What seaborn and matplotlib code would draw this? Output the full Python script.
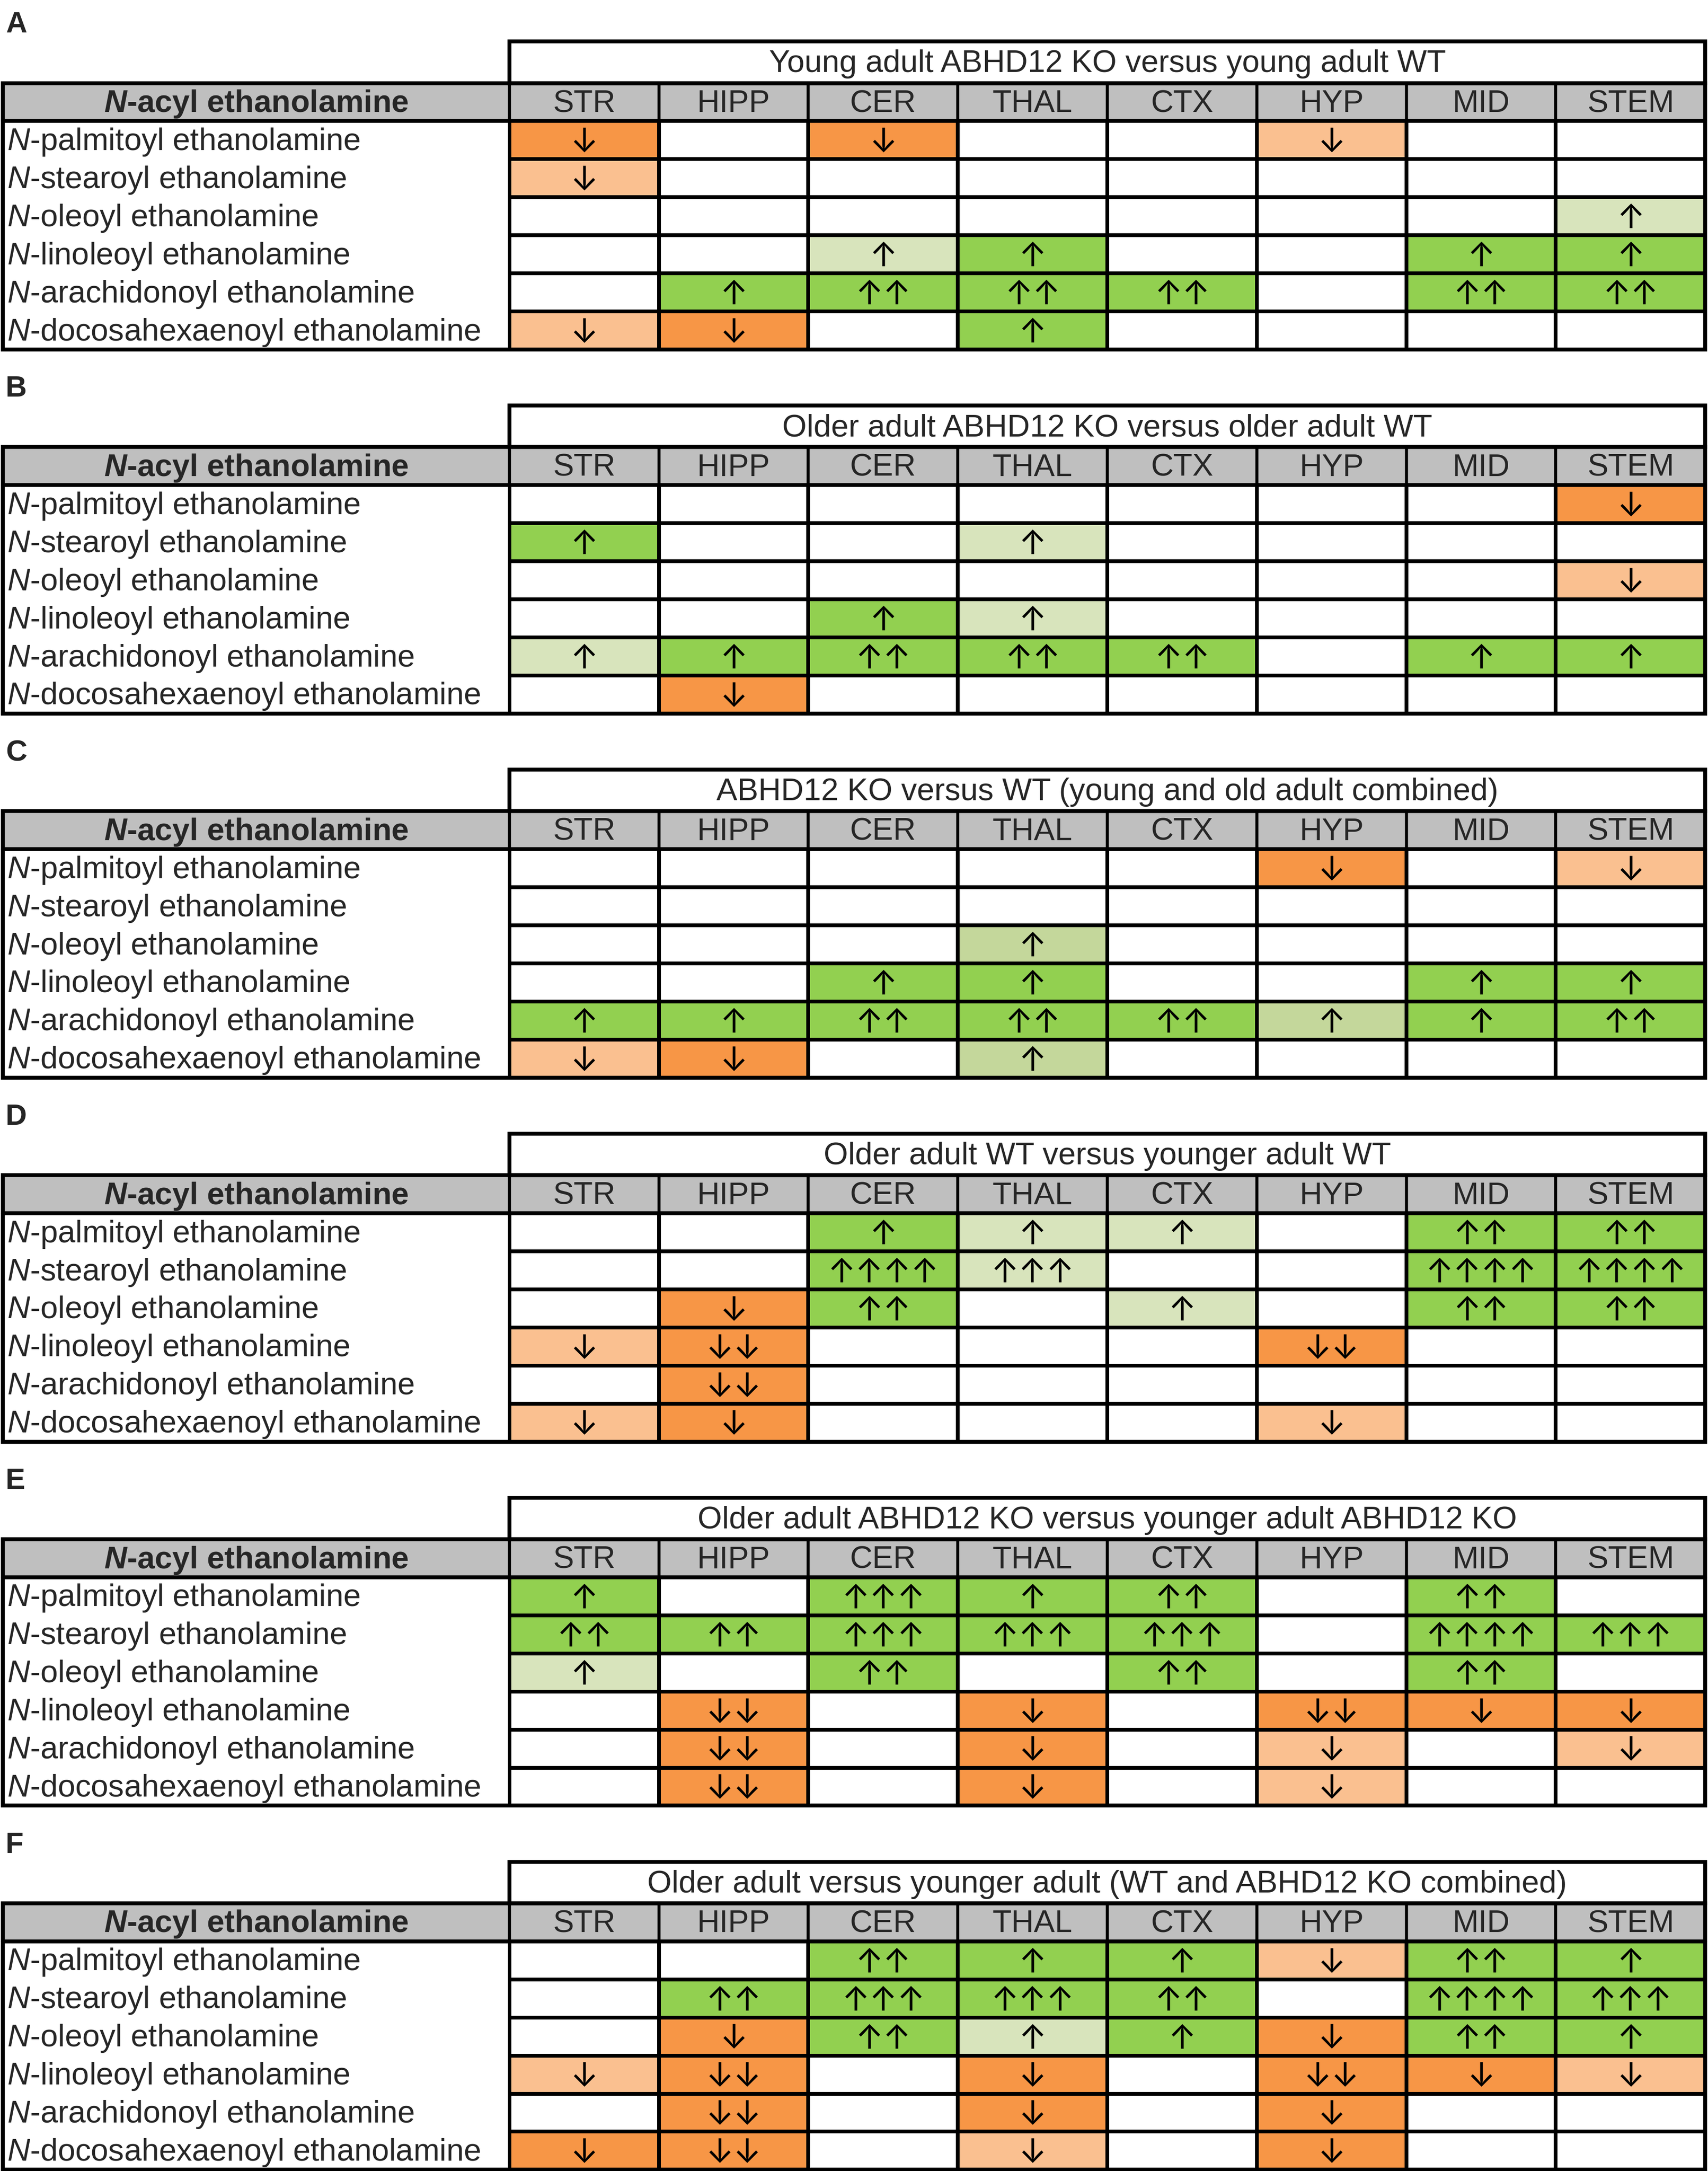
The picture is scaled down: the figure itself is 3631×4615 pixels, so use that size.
import numpy as np
import pandas as pd
import seaborn as sns
import matplotlib.pyplot as plt
from matplotlib.colors import ListedColormap
from matplotlib.patches import Rectangle

sns.set_style("white")
plt.rcParams['font.family'] = ['Liberation Sans', 'DejaVu Sans']
plt.rcParams['mathtext.fontset'] = 'custom'
plt.rcParams['mathtext.rm'] = 'Liberation Sans'
plt.rcParams['mathtext.it'] = 'Liberation Sans:italic'
plt.rcParams['mathtext.bf'] = 'Liberation Sans:bold'
plt.rcParams['mathtext.bfit'] = 'Liberation Sans:italic:bold'

regions = ["STR", "HIPP", "CER", "THAL", "CTX", "HYP", "MID", "STEM"]
acyls = ["palmitoyl", "stearoyl", "oleoyl", "linoleoyl",
         "arachidonoyl", "docosahexaenoyl"]
letters = ["A", "B", "C", "D", "E", "F"]
titles = [
    "Young adult ABHD12 KO versus young adult WT",
    "Older adult ABHD12 KO versus older adult WT",
    "ABHD12 KO versus WT (young and old adult combined)",
    "Older adult WT versus younger adult WT",
    "Older adult ABHD12 KO versus younger adult ABHD12 KO",
    "Older adult versus younger adult (WT and ABHD12 KO combined)",
]

# cell tokens: letter = shade, digit = number of arrows
# O dark orange (down), o light orange (down), G dark green (up),
# g light green (up), c pale olive green (up), . no change
panel_a = [
    "O1 .  O1 .  .  o1 .  .",
    "o1 .  .  .  .  .  .  .",
    ".  .  .  .  .  .  .  g1",
    ".  .  g1 G1 .  .  G1 G1",
    ".  G1 G2 G2 G2 .  G2 G2",
    "o1 O1 .  G1 .  .  .  .",
]
panel_b = [
    ".  .  .  .  .  .  .  O1",
    "G1 .  .  g1 .  .  .  .",
    ".  .  .  .  .  .  .  o1",
    ".  .  G1 g1 .  .  .  .",
    "g1 G1 G2 G2 G2 .  G1 G1",
    ".  O1 .  .  .  .  .  .",
]
panel_c = [
    ".  .  .  .  .  O1 .  o1",
    ".  .  .  .  .  .  .  .",
    ".  .  .  c1 .  .  .  .",
    ".  .  G1 G1 .  .  G1 G1",
    "G1 G1 G2 G2 G2 c1 G1 G2",
    "o1 O1 .  c1 .  .  .  .",
]
panel_d = [
    ".  .  G1 g1 g1 .  G2 G2",
    ".  .  G4 g3 .  .  G4 G4",
    ".  O1 G2 .  g1 .  G2 G2",
    "o1 O2 .  .  .  O2 .  .",
    ".  O2 .  .  .  .  .  .",
    "o1 O1 .  .  .  o1 .  .",
]
panel_e = [
    "G1 .  G3 G1 G2 .  G2 .",
    "G2 G2 G3 G3 G3 .  G4 G3",
    "g1 .  G2 .  G2 .  G2 .",
    ".  O2 .  O1 .  O2 O1 O1",
    ".  O2 .  O1 .  o1 .  o1",
    ".  O2 .  O1 .  o1 .  .",
]
panel_f = [
    ".  .  G2 G1 G1 o1 G2 G1",
    ".  G2 G3 G3 G2 .  G4 G3",
    ".  O1 G2 g1 G1 O1 G2 G1",
    "o1 O2 .  O1 .  O2 O1 o1",
    ".  O2 .  O1 .  O1 .  .",
    "O1 O2 .  o1 .  O1 .  .",
]
panels = [panel_a, panel_b, panel_c, panel_d, panel_e, panel_f]

shade_codes = {".": 0, "o": 1, "O": 2, "g": 3, "G": 4, "c": 5}
cmap = ListedColormap(["#FFFFFF", "#FAC090", "#F79646",
                       "#D8E4BC", "#92D050", "#C4D79B"])
row_labels = [r"$\mathit{N}$-" + a + " ethanolamine" for a in acyls]

W, H = 1234.0, 1568.4      # layout units (reference scaled 1/2.9425)
unit_y = 27.5
col_w = 108.0
lab_w = 366.0 / col_w      # width of the label column in cell units
fs = 16
fs_arrow = 17
lw_in, lw_out = 1.5, 2.0

fig = plt.figure(figsize=(3631 / 300, 4615 / 300), dpi=300)

for k, rows in enumerate(panels):
    cells = [r.split() for r in rows]
    shade = pd.DataFrame([[shade_codes[c[0]] for c in r] for r in cells],
                         index=acyls, columns=regions)
    annot = np.array([["" if c == "." else
                       ("\u2193" if c[0] in "oO" else "\u2191") * int(c[1])
                       for c in r] for r in cells])

    top = 87.5 + 263 * k
    ax = fig.add_axes([368 / W, 1 - (top + 6 * unit_y) / H,
                       864 / W, 6 * unit_y / H])
    sns.heatmap(shade, ax=ax, cmap=cmap, vmin=-0.5, vmax=5.5, cbar=False,
                annot=annot, fmt="", linewidths=lw_in, linecolor="black",
                xticklabels=False, yticklabels=False,
                annot_kws={"size": fs_arrow, "color": "black",
                           "va": "center_baseline",
                           "family": ["Inter", "DejaVu Sans"]})
    for s in ax.spines.values():
        s.set_visible(False)

    # header row
    ax.add_patch(Rectangle((-lab_w, -1), lab_w + 8, 1, facecolor="#BFBFBF",
                           edgecolor="none", clip_on=False))
    for j, reg in enumerate(regions):
        ax.add_patch(Rectangle((j, -1), 1, 1, fill=False, edgecolor="black",
                               lw=lw_in, clip_on=False))
        ax.text(j + 0.5, -0.45, reg, ha="center", va="center", fontsize=fs)
    ax.text(-lab_w / 2, -0.45, r"$\mathbfit{N}$-acyl ethanolamine",
            ha="center", va="center", fontsize=fs, fontweight="bold")
    ax.plot([-lab_w, 8], [0, 0], color="black", lw=lw_out, clip_on=False)
    ax.plot([0, 0], [-1, 6], color="black", lw=lw_in, clip_on=False)

    # row labels
    for i, lab in enumerate(row_labels):
        ax.text(-lab_w + 0.03, i + 0.55, lab, ha="left", va="center",
                fontsize=fs)

    # title box and outer border
    t_top = (30 + 263 * k - top) / unit_y
    ax.add_patch(Rectangle((0, t_top), 8, -1 - t_top, fill=False,
                           edgecolor="black", lw=lw_out, clip_on=False))
    ax.text(4, (t_top - 1) / 2 + 0.05, titles[k], ha="center", va="center",
            fontsize=fs)
    ax.add_patch(Rectangle((-lab_w, -1), lab_w + 8, 7, fill=False,
                           edgecolor="black", lw=lw_out, clip_on=False))

    # panel letter
    ax.text(-lab_w + 0.02, (18 + 263 * k - top) / unit_y, letters[k],
            ha="left", va="center", fontsize=fs - 1, fontweight="bold")

fig.savefig("out.png", dpi=300, facecolor="white")
